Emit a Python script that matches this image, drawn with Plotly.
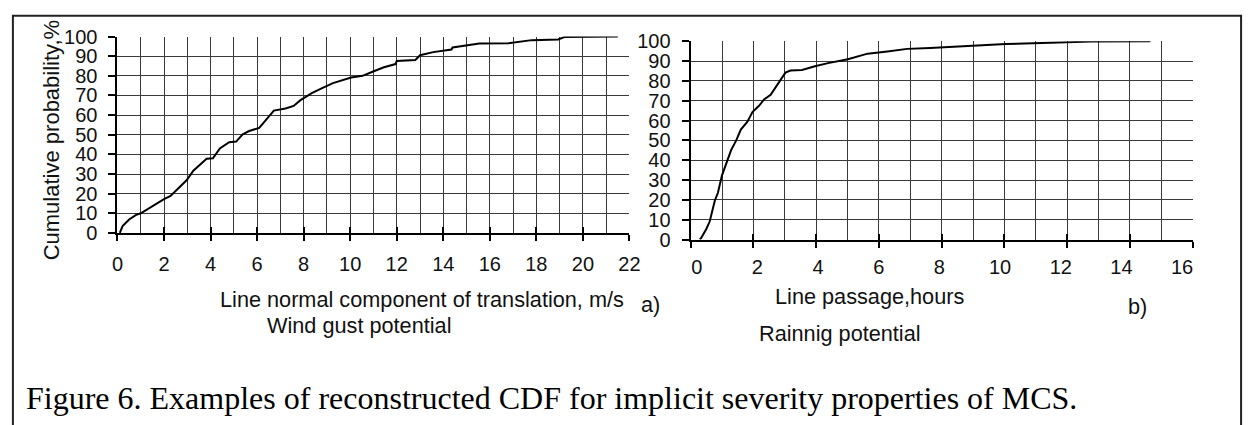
import plotly.graph_objects as go

# Panel a) wind gust potential: cumulative probability vs line-normal translation speed
wind_speed = [0.1, 0.22, 0.5, 0.8, 1.0, 1.42, 2.0, 2.28, 2.56, 2.98, 3.26, 3.55, 3.83, 4.1,
              4.4, 4.8, 5.1, 5.38, 5.66, 6.09, 6.37, 6.72, 7.22, 7.57, 7.85, 8.35, 8.77,
              9.26, 10.04, 10.53, 10.96, 11.45, 11.95, 12.0, 12.8, 13.0, 13.57, 14.35,
              14.4, 15.55, 16.8, 17.8, 18.94, 19.2, 21.5]
wind_cdf = [0, 3.5, 6.8, 9.2, 10, 13.2, 17.2, 18.8, 22, 26.9, 31.7, 34.9, 37.8, 38,
            43, 46.2, 46.5, 50.2, 51.9, 53.5, 57.5, 62.3, 63.4, 64.7, 67.5, 71.2, 73.6,
            76.3, 79.2, 80, 82.1, 84.4, 86, 87.6, 88.1, 90.5, 92.1, 93.4,
            94.5, 96.5, 96.6, 98.2, 98.5, 99.8, 100]

# Panel b) raining potential: cumulative probability vs line passage time
rain_hours = [0.29, 0.33, 0.5, 0.61, 0.77, 0.87, 1.0, 1.13, 1.29, 1.45, 1.6, 1.81, 1.97,
              2.18, 2.34, 2.55, 2.81, 3.02, 3.18, 3.55, 3.96, 4.38, 5.01, 5.64, 6.27,
              6.9, 7.63, 8.05, 9.0, 10.04, 11.72, 12.77, 14.65]
rain_cdf = [0, 0.6, 5.3, 9.2, 19.6, 23.6, 32.4, 37.9, 45.1, 49.9, 55.5, 59.5, 64.3,
            67.5, 70.7, 73, 79.4, 84.2, 85.3, 85.6, 87.4, 89, 91, 93.8, 94.9,
            96.2, 96.7, 97, 97.5, 98.6, 99.4, 99.9, 100]

y_ticks = list(range(0, 101, 10))
wind_ticks = list(range(0, 23, 2))
rain_ticks = list(range(0, 17, 2))

W, H = 1258, 425
SANS = "Liberation Sans, Arial, sans-serif"
SERIF = "Liberation Serif, Times New Roman, serif"
GRID = "#3a3a3a"
TICKFONT = dict(family=SANS, size=20, color="#111")


def px_x(p):
    return p / W


def px_y(p):
    return 1 - p / H


fig = go.Figure()
fig.add_trace(go.Scatter(x=wind_speed, y=wind_cdf, mode="lines",
                         line=dict(color="black", width=2), xaxis="x", yaxis="y",
                         showlegend=False, hoverinfo="skip"))
fig.add_trace(go.Scatter(x=rain_hours, y=rain_cdf, mode="lines",
                         line=dict(color="black", width=2), xaxis="x2", yaxis="y2",
                         showlegend=False, hoverinfo="skip"))
# empty traces so the overlay axes (inner ticks, shifted labels) get drawn
for xa, ya in [("x3", "y"), ("x4", "y2"), ("x5", "y2")]:
    fig.add_trace(go.Scatter(x=[None], y=[None], mode="lines", xaxis=xa, yaxis=ya,
                             showlegend=False, hoverinfo="skip"))

left_dom = [px_x(113), px_x(632)]
right_dom = [px_x(694), px_x(1203)]
left_ydom = [px_y(234), px_y(27)]
right_ydom = [px_y(241), px_y(32)]


def x_main(rng, dom, ticks, anchor, labels):
    return dict(domain=dom, range=rng, anchor=anchor, tickmode="array", tickvals=ticks,
                ticks="outside", ticklen=6, tickwidth=2, tickcolor="black",
                showgrid=True, gridcolor=GRID, gridwidth=1.3,
                minor=dict(dtick=1, tick0=0, showgrid=True, gridcolor=GRID, gridwidth=1.3,
                           ticks=""),
                showline=True, linecolor="black", linewidth=2,
                showticklabels=labels, tickfont=TICKFONT, ticklabelstandoff=6,
                zeroline=False, fixedrange=True)


def x_inner(rng, over, ticks, anchor):
    # second set of tick marks pointing inward so each tick crosses the axis
    return dict(overlaying=over, anchor=anchor, range=rng, tickmode="array",
                tickvals=ticks, ticks="inside", ticklen=6, tickwidth=2, tickcolor="black",
                showgrid=False, showline=False, showticklabels=False, zeroline=False,
                fixedrange=True)


def y_main(dom, anchor):
    return dict(domain=dom, range=[0, 100], anchor=anchor, tickmode="array",
                tickvals=y_ticks, ticks="outside", ticklen=7, tickwidth=2,
                tickcolor="black", showgrid=True, gridcolor=GRID, gridwidth=1.3,
                showline=True, linecolor="black", linewidth=2, tickfont=TICKFONT,
                zeroline=False, fixedrange=True, ticklabelstandoff=7)


fig.update_layout(
    width=W, height=H, margin=dict(l=0, r=0, t=0, b=0),
    paper_bgcolor="white", plot_bgcolor="white", showlegend=False,
    xaxis=x_main([0, 22], left_dom, wind_ticks, "y", True),
    yaxis=y_main(left_ydom, "x"),
    xaxis3=x_inner([0, 22], "x", wind_ticks, "y"),
    xaxis2=x_main([0, 16], right_dom, rain_ticks, "y2", False),
    yaxis2=y_main(right_ydom, "x2"),
    xaxis4=x_inner([0, 16], "x2", rain_ticks, "y2"),
    # tick labels of panel b) sit on a slightly tighter spacing than the ticks
    xaxis5=dict(overlaying="x2", anchor="y2", range=[-0.2, 16.35], tickmode="array",
                tickvals=rain_ticks, ticks="", showgrid=False, showline=False,
                zeroline=False, tickfont=TICKFONT, ticklabelstandoff=13,
                fixedrange=True),
)

texts = [
    ("Line normal component of translation, m/s", 422, 304),
    ("a)", 653, 310),
    ("Wind gust potential", 358, 332),
    ("Line passage,hours", 875, 301),
    ("b)", 1147, 312),
    ("Rainnig potential", 845, 340),
]
for t, x, y in texts:
    fig.add_annotation(text=t, x=px_x(x), y=px_y(y), xref="paper", yref="paper",
                       showarrow=False, xanchor="center", yanchor="middle",
                       font=dict(family=SANS, size=21.7, color="#111"))

fig.add_annotation(text="Cumulative probability,%", x=px_x(47), y=px_y(136),
                   xref="paper", yref="paper", showarrow=False, textangle=-90,
                   xanchor="center", yanchor="middle",
                   font=dict(family=SANS, size=22, color="#111"))

fig.add_annotation(text="Figure 6. Examples of reconstructed CDF for implicit severity properties of MCS.",
                   x=px_x(553), y=px_y(408), xref="paper", yref="paper", showarrow=False,
                   xanchor="center", yanchor="middle",
                   font=dict(family=SERIF, size=32, color="black"))

# outer frame of the figure
fig.add_shape(type="rect", xref="paper", yref="paper", x0=px_x(7), x1=px_x(1252),
              y0=-0.05, y1=px_y(5), line=dict(color="#222", width=2))

fig.write_html("out.html")
